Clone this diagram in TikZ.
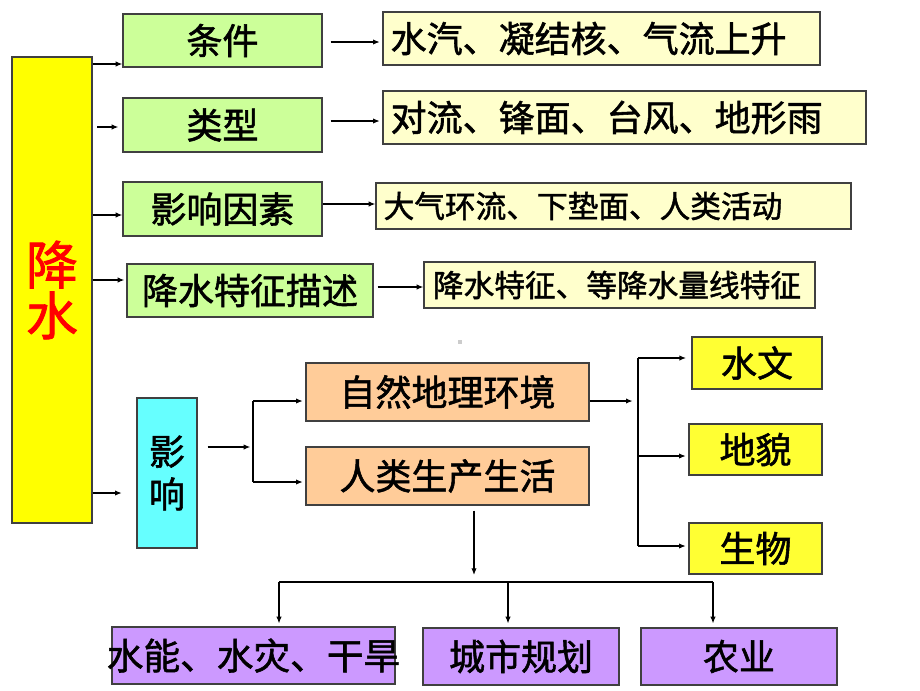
\documentclass[tikz,border=0pt]{standalone}
\usepackage{fontspec}
\setmainfont{Noto Sans CJK SC}[FakeBold=1.5]
\usetikzlibrary{arrows.meta}
\definecolor{cmain}{HTML}{FFFF00}
\definecolor{cgreen}{HTML}{CCFF99}
\definecolor{cbeige}{HTML}{FFFFCC}
\definecolor{ccyan}{HTML}{66FFFF}
\definecolor{corange}{HTML}{FFCC99}
\definecolor{cyel}{HTML}{FFFF33}
\definecolor{cpurple}{HTML}{CC99FF}
\definecolor{cedge}{HTML}{404040}
\tikzset{
  bx/.style={draw=cedge, line width=0.9pt, inner sep=0pt, rectangle},
  txt/.style={inner sep=0pt, anchor=west},
  arr/.style={-{Latex[length=5pt,width=4pt]}, line width=0.9pt},
  ln/.style={line width=0.9pt},
  fa/.style={font=\fontsize{27}{32}\selectfont},
  fd/.style={font=\fontsize{23}{28}\selectfont},
  fbig/.style={font=\fontsize{27.5}{32}\selectfont},
}
\begin{document}
\begin{tikzpicture}[x=0.75pt,y=-0.75pt]
\useasboundingbox (0,0) rectangle (920,690);
\fill[white] (0,0) rectangle (920,690);
% main
\node[bx, fill=cmain, minimum width=60pt, minimum height=349.5pt, align=center, text=red, font=\fontsize{39}{38}\selectfont] (m) at (52,290) {降\\水};
% green
\node[bx, fill=cgreen, minimum width=149.25pt, minimum height=39.75pt, fa] (c1) at (222.5,40.5) {条件};
\node[bx, fill=cgreen, minimum width=149.25pt, minimum height=40.5pt, fa] (c2) at (222.5,125) {类型};
\node[bx, fill=cgreen, minimum width=149.25pt, minimum height=40.5pt, fa] (c3) at (222.5,209) {影响因素};
\node[bx, fill=cgreen, minimum width=184.5pt, minimum height=39.75pt, fa] (c4) at (250,290.5) {降水特征描述};
% beige
\node[bx, fill=cbeige, minimum width=327.75pt, minimum height=39.75pt] (d1) at (601.5,38.5) {};
\node[txt, fa] (t1) at ([xshift=6pt]d1.west) {水汽、凝结核、气流上升};
\node[bx, fill=cbeige, minimum width=362.25pt, minimum height=39.75pt] (d2) at (624.5,117.5) {};
\node[txt, fa] (t2) at ([xshift=6pt]d2.west) {对流、锋面、台风、地形雨};
\node[bx, fill=cbeige, minimum width=356.25pt, minimum height=34.5pt] (d3) at (613.5,206) {};
\node[txt, fd] (t3) at ([xshift=6pt]d3.west) {大气环流、下垫面、人类活动};
\node[bx, fill=cbeige, minimum width=293.25pt, minimum height=34.5pt] (d4) at (619.5,285) {};
\node[txt, fd] (t4) at ([xshift=7pt]d4.west) {降水特征、等降水量线特征};
% cyan
\node[bx, fill=ccyan, minimum width=45pt, minimum height=112.5pt, align=center, fa] (e) at (167,473) {影\\响};
% orange
\node[bx, fill=corange, minimum width=212.25pt, minimum height=43.5pt, fa] (f1) at (447.5,392) {自然地理环境};
\node[bx, fill=corange, minimum width=212.25pt, minimum height=43.5pt, fa] (f2) at (447.5,476) {人类生产生活};
% yellow
\node[bx, fill=cyel, minimum width=97.5pt, minimum height=39pt, fa] (g1) at (757,363) {水文};
\node[bx, fill=cyel, minimum width=99.75pt, minimum height=38.25pt, fa] (g2) at (755.5,449.5) {地貌};
\node[bx, fill=cyel, minimum width=99.75pt, minimum height=38.25pt, fa] (g3) at (755.5,548.5) {生物};
% purple
\node[bx, fill=cpurple, minimum width=212.25pt, minimum height=42.75pt] (h1) at (253.5,655.5) {};
\node[inner sep=0pt, fbig] (t5) at (h1.center) {水能、水灾、干旱};
\node[bx, fill=cpurple, minimum width=147pt, minimum height=42.75pt, fa] (h2) at (521,656.5) {城市规划};
\node[bx, fill=cpurple, minimum width=147pt, minimum height=42.75pt, fa] (h3) at (739,656.5) {农业};
% small gray dot
\fill[gray!40] (458,340) rectangle (462,344);
% coordinates
\coordinate (y64) at (0,64);
\coordinate (s2) at (97,127);
\coordinate (y215) at (0,215);
\coordinate (y280) at (0,280);
\coordinate (y493) at (0,493);
\coordinate (y42) at (0,42);
\coordinate (y121) at (0,121);
\coordinate (y204) at (0,204);
\coordinate (y287) at (0,287);
\coordinate (j1) at (253,447);
\coordinate (j1t) at (253,401);
\coordinate (j1b) at (253,482);
\coordinate (j2) at (638,401);
\coordinate (j2t) at (638,358);
\coordinate (j2m) at (638,456);
\coordinate (j2b) at (638,546);
\coordinate (k) at (474,575);
\coordinate (h1t) at (279,582);
\coordinate (h2t) at (508,582);
\coordinate (h3t) at (713,582);
% main arrows
\draw[arr] (m.east |- y64) -- (c1.west |- y64);
\draw[arr, shorten >=3pt] (s2) -- (c2.west |- s2);
\draw[arr] (m.east |- y215) -- (c3.west |- y215);
\draw[arr, shorten >=1.5pt] (m.east |- y280) -- (c4.west |- y280);
\draw[arr, shorten >=11pt] (m.east |- y493) -- (e.west |- y493);
% green to beige
\draw[arr, shorten <=6pt, shorten >=2pt] (c1.east |- y42) -- (d1.west |- y42);
\draw[arr, shorten <=6pt, shorten >=2pt] (c2.east |- y121) -- (d2.west |- y121);
\draw[arr] (c3.east |- y204) -- (d3.west |- y204);
\draw[arr, shorten <=3pt] (c4.east |- y287) -- (d4.west |- y287);
% influence branch
\draw[arr, shorten <=7.5pt, shorten >=2pt] (e.east |- j1) -- (j1);
\draw[ln] (j1t) -- (j1b);
\draw[arr, shorten >=2pt] (j1t) -- (f1.west |- j1t);
\draw[arr, shorten >=2pt] (j1b) -- (f2.west |- j1b);
% natural branch
\draw[arr, shorten >=4pt] (f1.east |- j2) -- (j2);
\draw[ln] (j2t) -- (j2b);
\draw[arr, shorten >=4pt] (j2t) -- (g1.west |- j2t);
\draw[arr, shorten >=2pt] (j2m) -- (g2.west |- j2m);
\draw[arr, shorten >=2pt] (j2b) -- (g3.west |- j2b);
% human branch
\draw[arr, shorten <=3.75pt] (f2.south -| k) -- (k);
\draw[ln, line width=0.8pt] (h1t) -- (h3t);
\draw[arr, line width=0.8pt, shorten >=2.25pt] (h1t) -- (h1.north -| h1t);
\draw[arr, line width=0.8pt, shorten >=3pt] (h2t) -- (h2.north -| h2t);
\draw[arr, line width=0.8pt, shorten >=3pt] (h3t) -- (h3.north -| h3t);
\end{tikzpicture}
\end{document}
